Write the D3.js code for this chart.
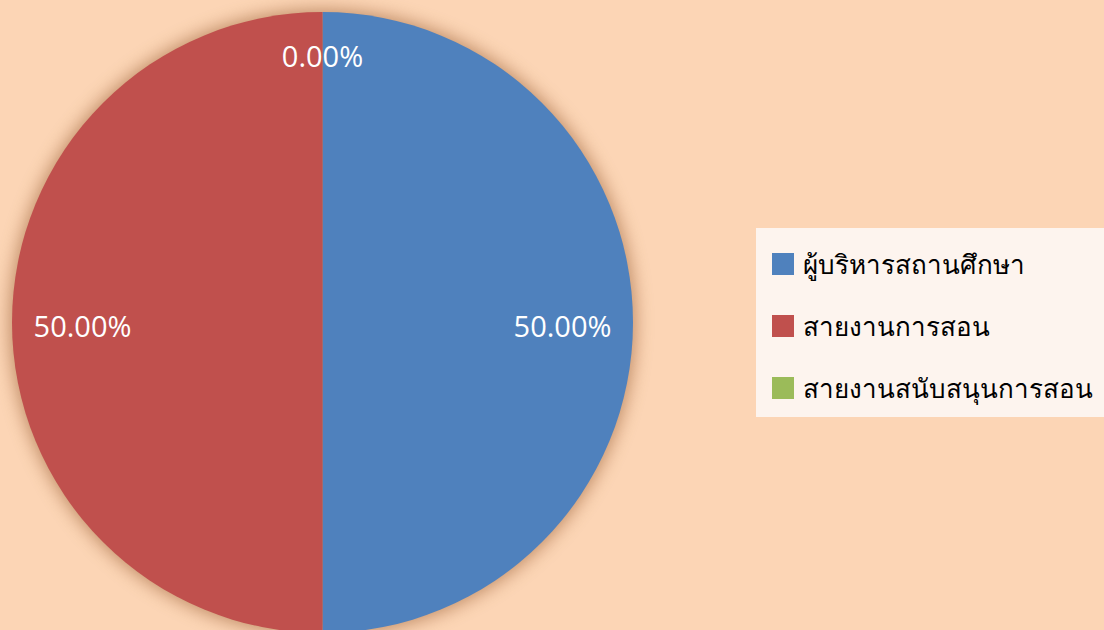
<!DOCTYPE html>
<html>
<head>
<meta charset="utf-8">
<script src="https://cdn.jsdelivr.net/npm/d3@7"></script>
<style>
  html, body { margin: 0; padding: 0; background: #fcd5b5; }
  svg { display: block; }
</style>
</head>
<body>
<div id="chart"></div>
<script>
// データ
const categories = ["ผู้บริหารสถานศึกษา", "สายงานการสอน", "สายงานสนับสนุนการสอน"];
const values = [1, 1, 0];
const colors = ["#4f81bd", "#c0504d", "#9bbb59"];

const width = 1104;
const height = 630;
const cx = 322.5, cy = 322.5, radius = 310.5;

const svg = d3.select("#chart").append("svg")
    .attr("width", width)
    .attr("height", height);

svg.append("rect")
    .attr("width", width)
    .attr("height", height)
    .attr("fill", "#fcd5b5");

const total = d3.sum(values);
const data = categories.map((c, i) => ({ name: c, value: values[i], color: colors[i] }));

const pie = d3.pie().sort(null).value(d => d.value);
const arcs = pie(data);

const arc = d3.arc().innerRadius(0).outerRadius(radius);

const g = svg.append("g").attr("transform", `translate(${cx},${cy})`);

// 影
g.append("circle")
    .attr("r", radius + 2)
    .attr("fill", "#a87048")
    .attr("opacity", 0.75)
    .style("filter", "blur(9px)");

g.selectAll(".slice")
    .data(arcs)
    .enter()
    .append("path")
    .attr("class", "slice")
    .attr("d", arc)
    .attr("fill", d => d.data.color);

// ラベル（0%のスライスは縁の近くに置く）
const labelArc = d3.arc().innerRadius(240).outerRadius(240);
const zeroArc = d3.arc().innerRadius(270).outerRadius(270);

g.selectAll(".label")
    .data(arcs)
    .enter()
    .append("text")
    .attr("class", "label")
    .attr("transform", d => {
        const a = d.data.value === 0 ? zeroArc : labelArc;
        const [x, y] = a.centroid(d);
        return `translate(${x},${y + 3})`;
    })
    .attr("text-anchor", "middle")
    .attr("dominant-baseline", "central")
    .attr("fill", "#ffffff")
    .attr("font-family", "'Open Sans', sans-serif")
    .attr("font-size", 29)
    .text(d => (d.data.value / total * 100).toFixed(2) + "%");

// 凡例
const legend = svg.append("g").attr("transform", "translate(756,228)");
legend.append("rect")
    .attr("width", 348)
    .attr("height", 189)
    .attr("fill", "#fdf4ee");

const item = legend.selectAll(".item")
    .data(data)
    .enter()
    .append("g")
    .attr("class", "item")
    .attr("transform", (d, i) => `translate(16, ${36 + i * 62})`);

item.append("rect")
    .attr("x", 0)
    .attr("y", -11)
    .attr("width", 22)
    .attr("height", 22)
    .attr("fill", d => d.color);

item.append("text")
    .attr("x", 31)
    .attr("y", 0)
    .attr("dominant-baseline", "central")
    .attr("fill", "#000000")
    .attr("font-family", "'Noto Sans', 'DejaVu Sans', sans-serif")
    .attr("font-size", 26)
    .text(d => d.name);
</script>
</body>
</html>
